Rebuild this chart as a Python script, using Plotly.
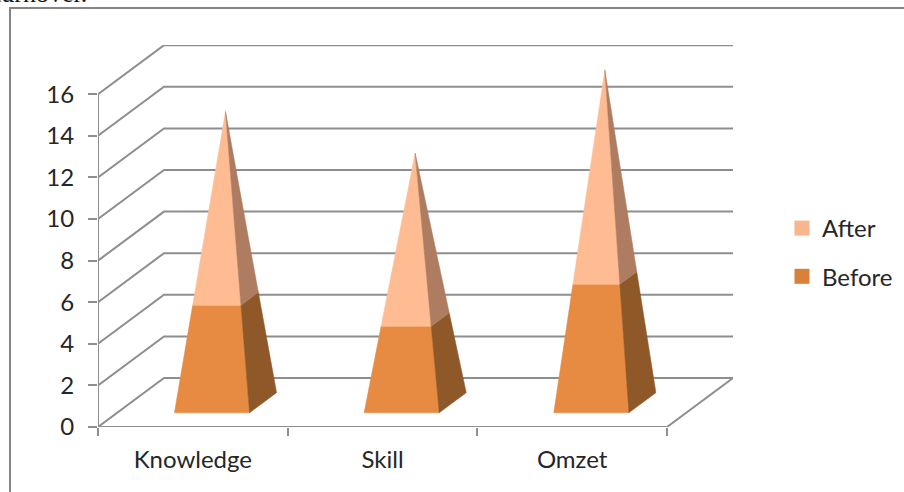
import plotly.graph_objects as go

# Chart data
categories = ["Knowledge", "Skill", "Omzet"]
before = [5, 4, 6]
after = [9, 8, 10]
y_ticks = [0, 2, 4, 6, 8, 10, 12, 14, 16]

# Oblique projection of the 3D box, in axis units
DEPTH_X = 0.348
DEPTH_Y = 2.356
Y_TOP = 18.365
X_TOP = 3 + DEPTH_X
HALF_WIDTH = 0.198
DEPTH_FRONT, DEPTH_BACK = 0.29, 0.70
DEPTH_MID = (DEPTH_FRONT + DEPTH_BACK) / 2

GRID = "#8E8E8E"
TEXT = "#262626"
FONT = "Lato"
FONT_SIZE = 24
COLORS = {
    "before_front": "#E68B41",
    "before_side": "#8F5828",
    "after_front": "#FFBC92",
    "after_side": "#AD7C61",
}
LEGEND = {"After": "#F9B58C", "Before": "#D98039"}

W, H = 904, 492
L, R, T, B = 98, 171, 45, 65
PW, PH = W - L - R, H - T - B


def project(x, value, depth):
    return x + depth * DEPTH_X, value + depth * DEPTH_Y


def section(center, total, low, high, face):
    """Outline of one visible face of a pyramid slice between two heights."""
    pts = []
    for h in (low, high):
        s = 1 - h / total
        front = DEPTH_MID + (DEPTH_FRONT - DEPTH_MID) * s
        back = DEPTH_MID + (DEPTH_BACK - DEPTH_MID) * s
        if face == "front":
            corners = [(center - HALF_WIDTH * s, front), (center + HALF_WIDTH * s, front)]
        else:
            corners = [(center + HALF_WIDTH * s, front), (center + HALF_WIDTH * s, back)]
        pts.append([project(x, h, d) for x, d in corners])
    ring = pts[0] + pts[1][::-1] + [pts[0][0]]
    return [p[0] for p in ring], [p[1] for p in ring]


fig = go.Figure()


def line(xs, ys):
    fig.add_trace(go.Scatter(x=xs, y=ys, mode="lines", hoverinfo="skip", showlegend=False,
                             line=dict(color=GRID, width=2)))


# Side wall diagonals and back wall gridlines
for v in y_ticks:
    bx, by = project(0, v, 1)
    ex, ey = project(3, v, 1)
    line([0, bx, ex], [v, by, ey])

# Floor edges and the vertical axis
rx, ry = project(3, 0, 1)
line([0, 3, rx], [0, 0, ry])
line([0, 0], [y_ticks[0], y_ticks[-1]])

# Pyramids, stacked Before then After
for i, cat in enumerate(categories):
    center = i + 0.5
    total = before[i] + after[i]
    for face in ("front", "side"):
        for name, low, high in (("before", 0, before[i]), ("after", before[i], total)):
            xs, ys = section(center, total, low, high, face)
            color = COLORS[f"{name}_{face}"]
            fig.add_trace(go.Scatter(x=xs, y=ys, mode="lines", fill="toself", fillcolor=color,
                                     line=dict(color=color, width=0.5), showlegend=False,
                                     hoverinfo="skip"))

# Legend entries
for name, color in LEGEND.items():
    fig.add_trace(go.Scatter(x=[None], y=[None], mode="markers", name=name, legendgroup=name,
                             marker=dict(symbol="square", size=15, color=color)))

fig.update_layout(
    width=W, height=H, autosize=False,
    margin=dict(l=L, r=R, t=T, b=B, pad=0, autoexpand=False),
    paper_bgcolor="white", plot_bgcolor="white",
    font=dict(family=FONT, size=FONT_SIZE, color=TEXT),
    xaxis=dict(range=[0, X_TOP], tickmode="array", tickvals=[0.5, 1.5, 2.5], ticktext=categories,
               ticks="", showgrid=False, zeroline=False, showline=False, ticklabelstandoff=16,
               minor=dict(tickmode="array", tickvals=[0, 1, 2, 3], ticks="outside", ticklen=8,
                          tickwidth=2, tickcolor=GRID, showgrid=False)),
    yaxis=dict(range=[0, Y_TOP], tickmode="array", tickvals=y_ticks, ticks="outside", ticklen=9,
               tickwidth=2, tickcolor=GRID, showgrid=False, zeroline=False, showline=False,
               ticklabelstandoff=9),
    legend=dict(x=(782 - L) / PW, y=1 - (206 - T) / PH, xanchor="left", yanchor="top",
                tracegroupgap=14, font=dict(family=FONT, size=FONT_SIZE, color=TEXT),
                bgcolor="rgba(0,0,0,0)"),
    shapes=[dict(type="rect", xref="paper", yref="paper",
                 x0=(10 - L) / PW, x1=(W + 20 - L) / PW,
                 y0=1 - (H + 20 - T) / PH, y1=1 - (8 - T) / PH,
                 line=dict(color="#858585", width=2), layer="below")],
    annotations=[dict(text="turnover.", xref="paper", yref="paper",
                      x=(-8 - L) / PW, y=1 - (10 - T) / PH, xanchor="left", yanchor="bottom",
                      showarrow=False, font=dict(family="Liberation Serif", size=26, color="#111111"))],
)

fig.write_html("out.html")
